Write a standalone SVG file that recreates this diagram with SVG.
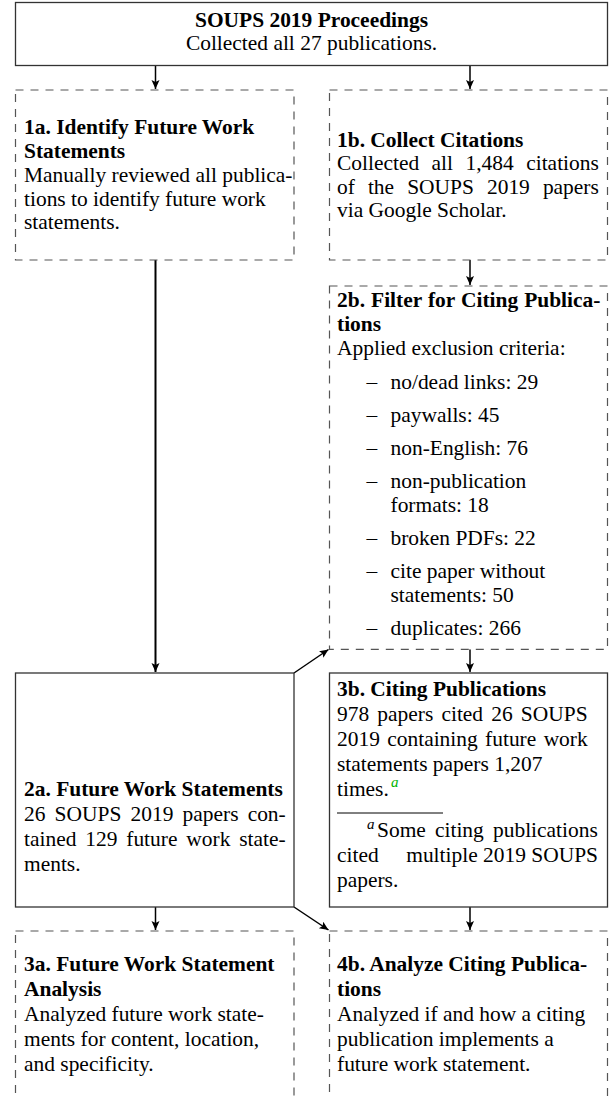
<svg xmlns="http://www.w3.org/2000/svg" width="611" height="1099" viewBox="0 0 611 1099">
<style>
.t{font-family:"Liberation Serif","Times New Roman",serif;font-size:21.45px;fill:#000}
.b{font-weight:bold}
.solid{fill:#fff;stroke:#333;stroke-width:1.3}
.dash{fill:#fff;stroke:#555;stroke-width:1.2;stroke-dasharray:8 7}
.c{fill:none;stroke:#000;stroke-width:1.5}
.ct{fill:none;stroke:#000;stroke-width:2}
.sup{font-size:15px;font-style:italic}
</style>
<defs>
<marker id="ah" markerUnits="userSpaceOnUse" markerWidth="12" markerHeight="10" refX="9" refY="4" orient="auto">
<path d="M0,0 L9,4 L0,8 L2,4 Z" fill="#000"/>
</marker>
</defs>
<rect width="611" height="1099" fill="#fff"/>

<g id="connectors">
<line class="c" x1="155.5" y1="65.5" x2="155.5" y2="89" marker-end="url(#ah)"/>
<line class="c" x1="470" y1="65.5" x2="470" y2="89" marker-end="url(#ah)"/>
<line class="c" x1="470" y1="260" x2="470" y2="285" marker-end="url(#ah)"/>
<line class="ct" x1="155.5" y1="260" x2="155.5" y2="672" marker-end="url(#ah)"/>
<line class="c" x1="470" y1="649.3" x2="470" y2="672" marker-end="url(#ah)"/>
<line class="c" x1="294" y1="673" x2="328.5" y2="649.5" marker-end="url(#ah)"/>
<line class="c" x1="294" y1="907" x2="328.5" y2="930" marker-end="url(#ah)"/>
<line class="c" x1="155.5" y1="907" x2="155.5" y2="930" marker-end="url(#ah)"/>
<line class="c" x1="470" y1="907" x2="470" y2="930" marker-end="url(#ah)"/>
</g>

<g id="proceedings">
<rect class="solid" x="15.5" y="2.5" width="592" height="63"/>
<text class="t b" x="311.5" y="27" text-anchor="middle">SOUPS 2019 Proceedings</text>
<text class="t" x="311.5" y="50" text-anchor="middle">Collected all 27 publications.</text>
</g>

<g id="n1a">
<rect class="dash" x="15.5" y="90" width="278.5" height="170"/>
<text class="t b" x="24" y="134">1a. Identify Future Work</text>
<text class="t b" x="24" y="157.5">Statements</text>
<text class="t" x="24" y="181.5">Manually reviewed all publica-</text>
<text class="t" x="24" y="205.5">tions to identify future work</text>
<text class="t" x="24" y="229">statements.</text>
</g>

<g id="n1b">
<rect class="dash" x="329.5" y="90" width="278" height="170"/>
<text class="t b" x="337" y="146.5">1b. Collect Citations</text>
<text class="t" x="337" y="170" word-spacing="7.1">Collected all 1,484 citations</text>
<text class="t" x="337" y="193.5" word-spacing="7.7">of the SOUPS 2019 papers</text>
<text class="t" x="337" y="217">via Google Scholar.</text>
</g>

<g id="n2b">
<rect class="dash" x="329.5" y="286" width="278" height="363.3"/>
<text class="t b" x="337" y="307" word-spacing="0.7">2b. Filter for Citing Publica-</text>
<text class="t b" x="337" y="331">tions</text>
<text class="t" x="337" y="355">Applied exclusion criteria:</text>
<text class="t" x="366.5" y="388.5">–</text><text class="t" x="390.5" y="388.5">no/dead links: 29</text>
<text class="t" x="366.5" y="421.5">–</text><text class="t" x="390.5" y="421.5">paywalls: 45</text>
<text class="t" x="366.5" y="454.5">–</text><text class="t" x="390.5" y="454.5">non-English: 76</text>
<text class="t" x="366.5" y="487.5">–</text><text class="t" x="390.5" y="487.5">non-publication</text>
<text class="t" x="390.5" y="511.5">formats: 18</text>
<text class="t" x="366.5" y="544.5">–</text><text class="t" x="390.5" y="544.5">broken PDFs: 22</text>
<text class="t" x="366.5" y="577.5">–</text><text class="t" x="390.5" y="577.5">cite paper without</text>
<text class="t" x="390.5" y="601.5">statements: 50</text>
<text class="t" x="366.5" y="635">–</text><text class="t" x="390.5" y="635">duplicates: 266</text>
</g>

<g id="n2a">
<rect class="solid" x="15.5" y="673" width="278.5" height="234"/>
<text class="t b" x="24" y="796">2a. Future Work Statements</text>
<text class="t" x="24" y="821" word-spacing="3.8">26 SOUPS 2019 papers con-</text>
<text class="t" x="24" y="846" word-spacing="3.5">tained 129 future work state-</text>
<text class="t" x="24" y="871">ments.</text>
</g>

<g id="n3b">
<rect class="solid" x="329.5" y="673" width="278" height="234"/>
<text class="t b" x="337" y="696">3b. Citing Publications</text>
<text class="t" x="337" y="721" word-spacing="2.8">978 papers cited 26 SOUPS</text>
<text class="t" x="337" y="746" word-spacing="2">2019 containing future work</text>
<text class="t" x="337" y="771">statements papers 1,207</text>
<text class="t" x="337" y="796">times.</text>
<text class="t sup" x="391" y="787" style="fill:#00b400">a</text>
<line x1="337" y1="813" x2="443" y2="813" stroke="#000" stroke-width="1"/>
<text class="t sup" x="367" y="829">a</text>
<text class="t" x="377" y="837" word-spacing="3.8">Some citing publications</text>
<text class="t" x="337" y="862">cited</text>
<text class="t" x="598" y="862" text-anchor="end">multiple 2019 SOUPS</text>
<text class="t" x="337" y="887">papers.</text>
</g>

<g id="n3a">
<rect class="dash" x="15.5" y="931" width="278.5" height="200"/>
<text class="t b" x="24" y="971">3a. Future Work Statement</text>
<text class="t b" x="24" y="996">Analysis</text>
<text class="t" x="24" y="1021">Analyzed future work state-</text>
<text class="t" x="24" y="1046">ments for content, location,</text>
<text class="t" x="24" y="1071">and specificity.</text>
</g>

<g id="n4b">
<rect class="dash" x="329.5" y="931" width="278" height="200"/>
<text class="t b" x="337" y="971">4b. Analyze Citing Publica-</text>
<text class="t b" x="337" y="996">tions</text>
<text class="t" x="337" y="1021">Analyzed if and how a citing</text>
<text class="t" x="337" y="1046">publication implements a</text>
<text class="t" x="337" y="1071">future work statement.</text>
</g>
</svg>
